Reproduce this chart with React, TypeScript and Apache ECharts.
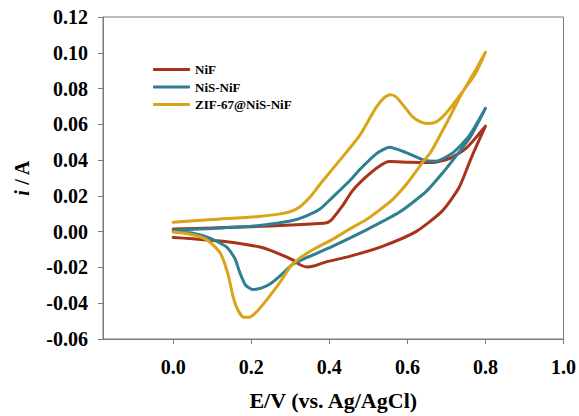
import React, { useEffect, useRef } from "react";
import * as echarts from "echarts";

const seriesNames = ["NiF", "NiS-NiF", "ZIF-67@NiS-NiF"];
const seriesColors = ["#A8321A", "#2E7F91", "#D9A417"];

const xTickValues = [0, 0.2, 0.4, 0.6, 0.8, 1.0];

// NiF: anodic sweep 0 -> 0.8 V, then cathodic sweep 0.8 -> 0 V
const nifCurve: [number, number][] = [
  [0, 0.0015], [0.1, 0.0021], [0.2, 0.0028], [0.3, 0.0037], [0.39, 0.0048], [0.405, 0.0065],
  [0.42, 0.0105], [0.434, 0.0145], [0.459, 0.0228], [0.494, 0.0306], [0.528, 0.0366],
  [0.554, 0.0392], [0.605, 0.0388], [0.663, 0.0386], [0.707, 0.0408], [0.75, 0.0465], [0.8, 0.059],
  [0.765, 0.042], [0.732, 0.0245], [0.689, 0.0115], [0.622, 0.0], [0.536, -0.0082],
  [0.452, -0.0138], [0.39, -0.017], [0.36, -0.0192], [0.343, -0.0198], [0.325, -0.0185],
  [0.306, -0.0158], [0.265, -0.0118], [0.222, -0.0086], [0.137, -0.0056], [0.051, -0.004], [0, -0.0032],
];

// NiS-NiF
const nisCurve: [number, number][] = [
  [0, 0.0008], [0.1, 0.0018], [0.2, 0.003], [0.25, 0.0043], [0.3, 0.006], [0.33, 0.0078],
  [0.375, 0.0125], [0.408, 0.0192], [0.452, 0.0285], [0.477, 0.0345], [0.52, 0.0435],
  [0.554, 0.0472], [0.597, 0.0442], [0.638, 0.0403], [0.673, 0.0393], [0.715, 0.0438],
  [0.758, 0.0535], [0.8, 0.069],
  [0.76, 0.0525], [0.72, 0.041], [0.689, 0.0325], [0.647, 0.0222], [0.579, 0.0108],
  [0.495, 0.001], [0.408, -0.0082], [0.342, -0.0145], [0.306, -0.0182], [0.28, -0.0235],
  [0.25, -0.029], [0.225, -0.0316], [0.204, -0.0323], [0.185, -0.0298], [0.17, -0.0225],
  [0.158, -0.015], [0.137, -0.0086], [0.094, -0.0036], [0.05, -0.0009], [0, 0.0002],
];

// ZIF-67@NiS-NiF
const zifCurve: [number, number][] = [
  [0, 0.0052], [0.1, 0.0068], [0.22, 0.0085], [0.27, 0.0098], [0.3, 0.0112], [0.324, 0.0138],
  [0.35, 0.0192], [0.375, 0.0262], [0.41, 0.0355], [0.443, 0.0442], [0.477, 0.0535],
  [0.5, 0.062], [0.52, 0.0695], [0.54, 0.0748], [0.555, 0.0765], [0.57, 0.0755], [0.59, 0.0705],
  [0.612, 0.0645], [0.635, 0.0613], [0.655, 0.0605], [0.675, 0.0615], [0.7, 0.0665],
  [0.732, 0.0755], [0.775, 0.0886], [0.8, 0.1003],
  [0.77, 0.0885], [0.74, 0.0775], [0.7, 0.0605], [0.66, 0.0445], [0.638, 0.0385], [0.6, 0.0272],
  [0.561, 0.0178], [0.52, 0.0107], [0.495, 0.0068], [0.45, 0.0012], [0.408, -0.0043],
  [0.36, -0.0098], [0.324, -0.0148], [0.3, -0.0195], [0.28, -0.0262], [0.247, -0.036],
  [0.215, -0.0445], [0.195, -0.0478], [0.18, -0.0478], [0.165, -0.0435], [0.153, -0.036],
  [0.14, -0.0235], [0.12, -0.0118], [0.087, -0.0046], [0.05, -0.0017], [0, -0.0002],
];

const curves = [nifCurve, nisCurve, zifCurve];

const FONT = "'Liberation Serif', 'Times New Roman', serif";
const AXIS_GRAY = "#7a7a7a";

export default function App() {
  const ref = useRef<HTMLDivElement>(null);

  useEffect(() => {
    if (!ref.current) return;
    const chart = echarts.init(ref.current, undefined, { renderer: "svg" });
    chart.setOption({
      animation: false,
      backgroundColor: "#ffffff",
      grid: {
        left: 103,
        top: 17,
        right: 14,
        bottom: 76,
        show: true,
        borderColor: AXIS_GRAY,
        borderWidth: 1,
        containLabel: false,
      },
      legend: {
        orient: "vertical",
        left: 153,
        top: 63,
        padding: 0,
        itemGap: 4.5,
        itemWidth: 37,
        itemHeight: 3,
        itemTextGap: 8,
        icon: "roundRect",
        data: seriesNames,
        textStyle: {
          fontFamily: FONT,
          fontWeight: "bold",
          fontSize: 13,
          color: "#000",
          lineHeight: 13,
        },
      },
      xAxis: {
        type: "value",
        min: -0.18,
        max: 1.0,
        splitLine: { show: false },
        axisLine: { onZero: false, lineStyle: { color: AXIS_GRAY, width: 1 } },
        axisTick: {
          show: true,
          length: 5,
          inside: false,
          customValues: xTickValues,
          lineStyle: { color: AXIS_GRAY },
        },
        axisLabel: {
          customValues: xTickValues,
          formatter: (v: number) => v.toFixed(1),
          fontFamily: FONT,
          fontWeight: "bold",
          fontSize: 20,
          color: "#000",
          margin: 18,
        },
        name: "E/V (vs. Ag/AgCl)",
        nameLocation: "middle",
        nameGap: 50,
        nameTextStyle: {
          fontFamily: FONT,
          fontWeight: "bold",
          fontSize: 22,
          color: "#000",
        },
      },
      yAxis: {
        type: "value",
        min: -0.06,
        max: 0.12,
        interval: 0.02,
        splitLine: { show: false },
        axisLine: { show: true, onZero: false, lineStyle: { color: AXIS_GRAY, width: 1 } },
        axisTick: { show: true, length: 5, inside: false, lineStyle: { color: AXIS_GRAY } },
        axisLabel: {
          formatter: (v: number) => v.toFixed(2),
          fontFamily: FONT,
          fontWeight: "bold",
          fontSize: 20,
          color: "#000",
          margin: 15,
        },
        name: "{it|i} / A",
        nameLocation: "middle",
        nameRotate: 90,
        nameGap: 71,
        nameTextStyle: {
          fontFamily: FONT,
          fontWeight: "bold",
          fontSize: 20,
          color: "#000",
          rich: {
            it: {
              fontFamily: FONT,
              fontWeight: "bold",
              fontStyle: "italic",
              fontSize: 20,
              color: "#000",
            },
          },
        },
      },
      series: curves.map((c, k) => ({
        name: seriesNames[k],
        type: "line",
        data: c,
        smooth: 0.2,
        showSymbol: false,
        symbol: "none",
        color: seriesColors[k],
        lineStyle: { width: 3, color: seriesColors[k], cap: "round", join: "round" },
      })),
    });
    return () => chart.dispose();
  }, []);

  return <div ref={ref} style={{ width: 579, height: 416, position: "absolute", left: 0, top: 0 }} />;
}
